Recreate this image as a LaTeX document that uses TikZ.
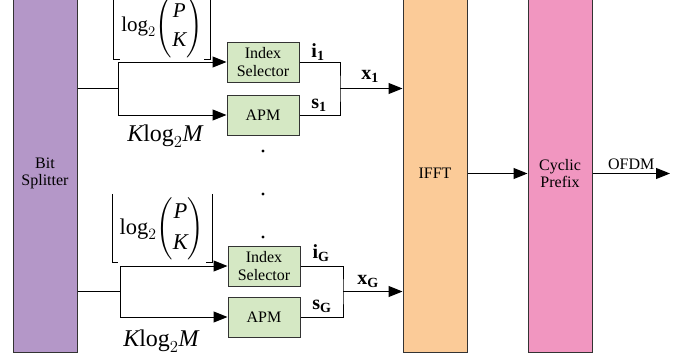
\documentclass[tikz,border=0pt]{standalone}
\usepackage{fix-cm}
\usepackage{amsmath}
\usepackage{fontspec}
\setmainfont{Liberation Serif}
\usetikzlibrary{arrows.meta}
\definecolor{splitcol}{RGB}{180,151,200}
\definecolor{ifftcol}{RGB}{251,203,152}
\definecolor{cpcol}{RGB}{241,150,192}
\definecolor{modcol}{RGB}{213,232,196}
\tikzset{
  tall/.style={rectangle, draw=black!80, minimum width=64pt, minimum height=357pt, align=center, font=\fontsize{16}{17.5}\selectfont, inner sep=0},
  module/.style={rectangle, draw=black!80, fill=modcol, minimum width=72pt, minimum height=40pt, align=center, font=\fontsize{16}{17.5}\selectfont, inner sep=0},
  arr/.style={-{Triangle[length=14pt,width=11pt]}},
  vec/.style={font=\fontsize{20}{24}\selectfont, inner sep=0},
  bits/.style={font=\fontsize{22.5}{27}\selectfont, inner xsep=7pt, inner ysep=0pt},
  floorline/.style={line width=0.8pt},
  apmbitsfont/.style={font=\fontsize{24}{28}\selectfont, inner sep=0}
}
\newcommand{\idxbits}{$\mathrm{log}_2 \dbinom{\mathit{P}}{\mathit{K}}$}
\newcommand{\apmbits}{$\mathit{K}\mathrm{log}_2\mathit{M}$}

\begin{document}
\begin{tikzpicture}[x=1pt, y=1pt, line width=1pt]
  \path[use as bounding box, clip] (0,0) rectangle (694,360);

  \node[tall, fill=splitcol](split) at (45,186.5){Bit\\Splitter};
  \node[tall, fill=ifftcol](ifft) at (435,186.5){IFFT};
  \node[tall, fill=cpcol](cp) at (560,186.5){Cyclic\\Prefix};

  % first group
  \node[module](idx1) at (263,298){Index\\Selector};
  \node[module](apm1) at (263,245){APM};
  \coordinate (br1) at (118,271.5);
  \coordinate (mg1) at (340,271.5);
  \draw (split.east |- br1) -- (br1);
  \draw[arr] (br1) |- (idx1);
  \draw[arr] (br1) |- (apm1);
  \draw (idx1) -| (mg1) |- (apm1);
  \draw[arr] (mg1) -- (mg1 -| ifft.west);
  \node[bits, font=\fontsize{21}{25}\selectfont, anchor=south](pk1) at (162,302){\idxbits};
  \draw[floorline] ([yshift=8pt]pk1.north west) |- ([xshift=6pt,yshift=-1.5pt]pk1.south west);
  \draw[floorline] ([yshift=8pt]pk1.north east) |- ([xshift=-6pt,yshift=-1.5pt]pk1.south east);
  \node[apmbitsfont](km1) at (165,224){\apmbits};
  \node[vec](i1) at (318,308){$\mathbf{i}_{\mathbf{1}}$};
  \node[vec](s1) at (319,255){$\mathbf{s}_{\mathbf{1}}$};
  \node[vec](x1) at (370,283.5){$\mathbf{x}_{\mathbf{1}}$};

  \foreach \y in {209,166,123}
    \fill (263,\y) circle (1.6pt);

  % last group
  \node[module](idxG) at (264,94){Index\\Selector};
  \node[module](apmG) at (264,43){APM};
  \coordinate (brG) at (120,68.5);
  \coordinate (mgG) at (343,68.5);
  \draw (split.east |- brG) -- (brG);
  \draw[arr] (brG) |- (idxG);
  \draw[arr] (brG) |- (apmG);
  \draw (idxG) -| (mgG) |- (apmG);
  \draw[arr] (mgG) -- (mgG -| ifft.west);
  \node[bits](pkG) at (162,131.5){\idxbits};
  \draw[floorline] ([yshift=3pt]pkG.north west) |- ([xshift=6pt,yshift=-2pt]pkG.south west);
  \draw[floorline] ([yshift=3pt]pkG.north east) |- ([xshift=-6pt,yshift=-2pt]pkG.south east);
  \node[apmbitsfont](kmG) at (161,19){\apmbits};
  \node[vec](iG) at (321,106.5){$\mathbf{i}_{\mathbf{G}}$};
  \node[vec](sG) at (322,54){$\mathbf{s}_{\mathbf{G}}$};
  \node[vec](xG) at (368,79){$\mathbf{x}_{\mathbf{G}}$};

  \draw[arr] (ifft) -- (cp);
  \coordinate (out) at (670,186.5);
  \draw[arr] (cp) -- node[above, font=\fontsize{16}{17.5}\selectfont](ofdm){OFDM} (out);
\end{tikzpicture}
\end{document}
